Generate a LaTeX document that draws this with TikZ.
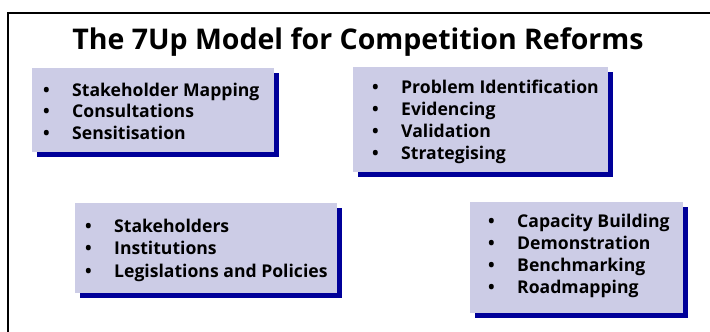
\documentclass[tikz,border=0pt]{standalone}
\usepackage{fontspec}
\setmainfont{Open Sans}
\usetikzlibrary{shadows}
\definecolor{lav}{RGB}{204,204,230}
\definecolor{sblue}{RGB}{0,0,153}
\newcommand\bl[1]{\makebox[29pt][l]{•}#1}
\tikzset{
  panel/.style={anchor=north west, fill=lav, inner sep=0pt, draw=none,
    general shadow={fill=sblue, shadow xshift=5pt, shadow yshift=-5pt}},
  itemlist/.style={anchor=base west, inner sep=0pt, font=\bfseries\fontsize{17.6}{22}\selectfont},
  titletext/.style={anchor=base, inner sep=0pt, font=\bfseries\fontsize{28.5}{34}\selectfont},
  frame/.style={draw=black, line width=1.8pt}
}
\begin{document}
\begin{tikzpicture}[x=1pt, y=-1pt]
\path[use as bounding box] (0,0) rectangle (710,332);
\clip (0,0) rectangle (710,332);
\fill[white] (0,0) rectangle (710,332);
\draw[frame] (8,13) rectangle (730,350);
\node[titletext] (title) at (358,49) {The 7Up Model for Competition Reforms};
\node[panel, minimum width=242pt, minimum height=84pt] (b1) at (32,68) {};
\node[panel, minimum width=255pt, minimum height=105pt] (b2) at (353,67) {};
\node[panel, minimum width=262pt, minimum height=90pt] (b3) at (75,203) {};
\node[panel, minimum width=213pt, minimum height=111pt] (b4) at (470,202) {};
\node[itemlist, font=\bfseries\fontsize{17.6}{21.3}\selectfont] (l1) at (43,96.5) {\begin{tabular}[t]{@{}l@{}}\bl{Stakeholder Mapping}\\ \bl{Consultations}\\ \bl{Sensitisation}\end{tabular}};
\node[itemlist] (l2) at (372,93) {\begin{tabular}[t]{@{}l@{}}\bl{Problem Identification}\\ \bl{Evidencing}\\ \bl{Validation}\\ \bl{Strategising}\end{tabular}};
\node[itemlist, font=\bfseries\fontsize{17.6}{22.5}\selectfont] (l3) at (85,232) {\begin{tabular}[t]{@{}l@{}}\bl{Stakeholders}\\ \bl{Institutions}\\ \bl{Legislations and Policies}\end{tabular}};
\node[itemlist] (l4) at (488,227) {\begin{tabular}[t]{@{}l@{}}\bl{Capacity Building}\\ \bl{Demonstration}\\ \bl{Benchmarking}\\ \bl{Roadmapping}\end{tabular}};
\end{tikzpicture}
\end{document}
